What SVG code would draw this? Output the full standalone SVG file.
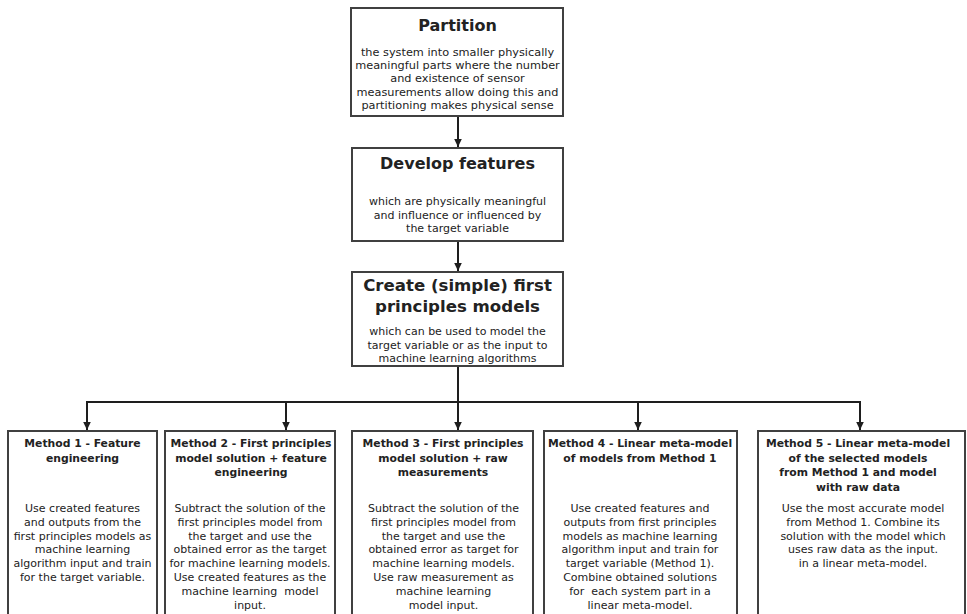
<svg xmlns="http://www.w3.org/2000/svg" width="967" height="614" viewBox="0 0 967 614">
  <defs>
    <style>
      .box { fill: #ffffff; stroke: #404040; stroke-width: 2; }
      .wire { fill: none; stroke: #1e1e1e; stroke-width: 2; }
      text { font-family: "DejaVu Sans", Verdana, sans-serif; fill: #222222; text-anchor: middle; white-space: pre; }
      .h1 { font-size: 16px; font-weight: bold; }
      .h1b { font-size: 16.6px; font-weight: bold; }
      .h2 { font-size: 10.8px; font-weight: bold; }
      .body { font-size: 11px; }
      .bodyl { font-size: 11.3px; }
    </style>
    <marker id="arrow" viewBox="0 0 8 10" refX="8" refY="5" markerWidth="8" markerHeight="10" markerUnits="userSpaceOnUse" orient="auto">
      <path d="M0,1.2 L8,5 L0,8.8 Z" fill="#1e1e1e"/>
    </marker>
  </defs>

  <rect width="967" height="614" fill="#ffffff"/>

  <!-- connectors -->
  <g id="connectors">
    <line class="wire" x1="458" y1="116" x2="458" y2="147" marker-end="url(#arrow)"/>
    <line class="wire" x1="458" y1="241" x2="458" y2="271" marker-end="url(#arrow)"/>
    <line class="wire" x1="458" y1="366" x2="458" y2="402"/>
    <line class="wire" x1="86" y1="402" x2="861" y2="402"/>
    <line class="wire" x1="87" y1="401" x2="87" y2="430" marker-end="url(#arrow)"/>
    <line class="wire" x1="286" y1="402" x2="286" y2="430" marker-end="url(#arrow)"/>
    <line class="wire" x1="458" y1="402" x2="458" y2="430" marker-end="url(#arrow)"/>
    <line class="wire" x1="638" y1="402" x2="638" y2="430" marker-end="url(#arrow)"/>
    <line class="wire" x1="860" y1="401" x2="860" y2="430" marker-end="url(#arrow)"/>
  </g>

  <!-- top chain -->
  <g id="partition">
    <rect class="box" x="351" y="8" width="212" height="108"/>
    <text class="h1" x="457.5" y="31">Partition</text>
    <text class="bodyl" x="457.5" y="55.5">the system into smaller physically</text>
    <text class="bodyl" x="457.5" y="69">meaningful parts where the number</text>
    <text class="bodyl" x="457.5" y="82.3">and existence of sensor</text>
    <text class="bodyl" x="457.5" y="95.7">measurements allow doing this and</text>
    <text class="bodyl" x="457.5" y="109">partitioning makes physical sense</text>
  </g>

  <g id="develop-features">
    <rect class="box" x="352" y="148" width="211" height="93"/>
    <text class="h1" x="457.5" y="168.5">Develop features</text>
    <text class="body" x="457.5" y="205">which are physically meaningful</text>
    <text class="body" x="457.5" y="218.5">and influence or influenced by</text>
    <text class="body" x="457.5" y="232">the target variable</text>
  </g>

  <g id="first-principles">
    <rect class="box" x="352" y="272" width="211" height="94"/>
    <text class="h1b" x="457.5" y="291">Create (simple) first</text>
    <text class="h1b" x="457.5" y="312">principles models</text>
    <text class="body" x="457.5" y="335">which can be used to model the</text>
    <text class="body" x="457.5" y="348.5">target variable or as the input to</text>
    <text class="body" x="457.5" y="362">machine learning algorithms</text>
  </g>

  <!-- methods -->
  <g id="method-1">
    <rect class="box" x="8" y="431" width="149" height="200"/>
    <text class="h2" x="82.5" y="447">Method 1 - Feature</text>
    <text class="h2" x="82.5" y="461.5">engineering</text>
    <text class="body" x="82.5" y="512">Use created features</text>
    <text class="body" x="82.5" y="525.8">and outputs from the</text>
    <text class="body" x="82.5" y="539.6">first principles models as</text>
    <text class="body" x="82.5" y="553.4">machine learning</text>
    <text class="body" x="82.5" y="567.2">algorithm input and train</text>
    <text class="body" x="82.5" y="581">for the target variable.</text>
  </g>

  <g id="method-2">
    <rect class="box" x="165" y="431" width="170" height="200"/>
    <text class="h2" x="251" y="447">Method 2 - First principles</text>
    <text class="h2" x="251" y="461.5">model solution + feature</text>
    <text class="h2" x="251" y="476">engineering</text>
    <text class="body" x="250" y="512">Subtract the solution of the</text>
    <text class="body" x="250" y="525.8">first principles model from</text>
    <text class="body" x="250" y="539.6">the target and use the</text>
    <text class="body" x="250" y="553.4">obtained error as the target</text>
    <text class="body" x="250" y="567.2">for machine learning models.</text>
    <text class="body" x="250" y="581">Use created features as the</text>
    <text class="body" x="250" y="594.8">machine learning  model</text>
    <text class="body" x="250" y="608.6">input.</text>
  </g>

  <g id="method-3">
    <rect class="box" x="352" y="431" width="181" height="200"/>
    <text class="h2" x="443" y="447">Method 3 - First principles</text>
    <text class="h2" x="443" y="461.5">model solution + raw</text>
    <text class="h2" x="443" y="476">measurements</text>
    <text class="body" x="443.5" y="512">Subtract the solution of the</text>
    <text class="body" x="443.5" y="525.8">first principles model from</text>
    <text class="body" x="443.5" y="539.6">the target and use the</text>
    <text class="body" x="443.5" y="553.4">obtained error as target for</text>
    <text class="body" x="443.5" y="567.2">machine learning models.</text>
    <text class="body" x="443.5" y="581">Use raw measurement as</text>
    <text class="body" x="443.5" y="594.8">machine learning</text>
    <text class="body" x="443.5" y="608.6">model input.</text>
  </g>

  <g id="method-4">
    <rect class="box" x="544" y="431" width="193" height="200"/>
    <text class="h2" x="640" y="447">Method 4 - Linear meta-model</text>
    <text class="h2" x="640" y="461.5">of models from Method 1</text>
    <text class="body" x="640" y="512">Use created features and</text>
    <text class="body" x="640" y="525.8">outputs from first principles</text>
    <text class="body" x="640" y="539.6">models as machine learning</text>
    <text class="body" x="640" y="553.4">algorithm input and train for</text>
    <text class="body" x="640" y="567.2">target variable (Method 1).</text>
    <text class="body" x="640" y="581">Combine obtained solutions</text>
    <text class="body" x="640" y="594.8">for  each system part in a</text>
    <text class="body" x="640" y="608.6">linear meta-model.</text>
  </g>

  <g id="method-5">
    <rect class="box" x="758" y="431" width="207" height="200"/>
    <text class="h2" x="858" y="447">Method 5 - Linear meta-model</text>
    <text class="h2" x="858" y="461.5">of the selected models</text>
    <text class="h2" x="858" y="476">from Method 1 and model</text>
    <text class="h2" x="858" y="490.5">with raw data</text>
    <text class="body" x="863" y="512">Use the most accurate model</text>
    <text class="body" x="863" y="525.8">from Method 1. Combine its</text>
    <text class="body" x="863" y="539.6">solution with the model which</text>
    <text class="body" x="863" y="553.4">uses raw data as the input.</text>
    <text class="body" x="863" y="567.2">in a linear meta-model.</text>
  </g>
</svg>
